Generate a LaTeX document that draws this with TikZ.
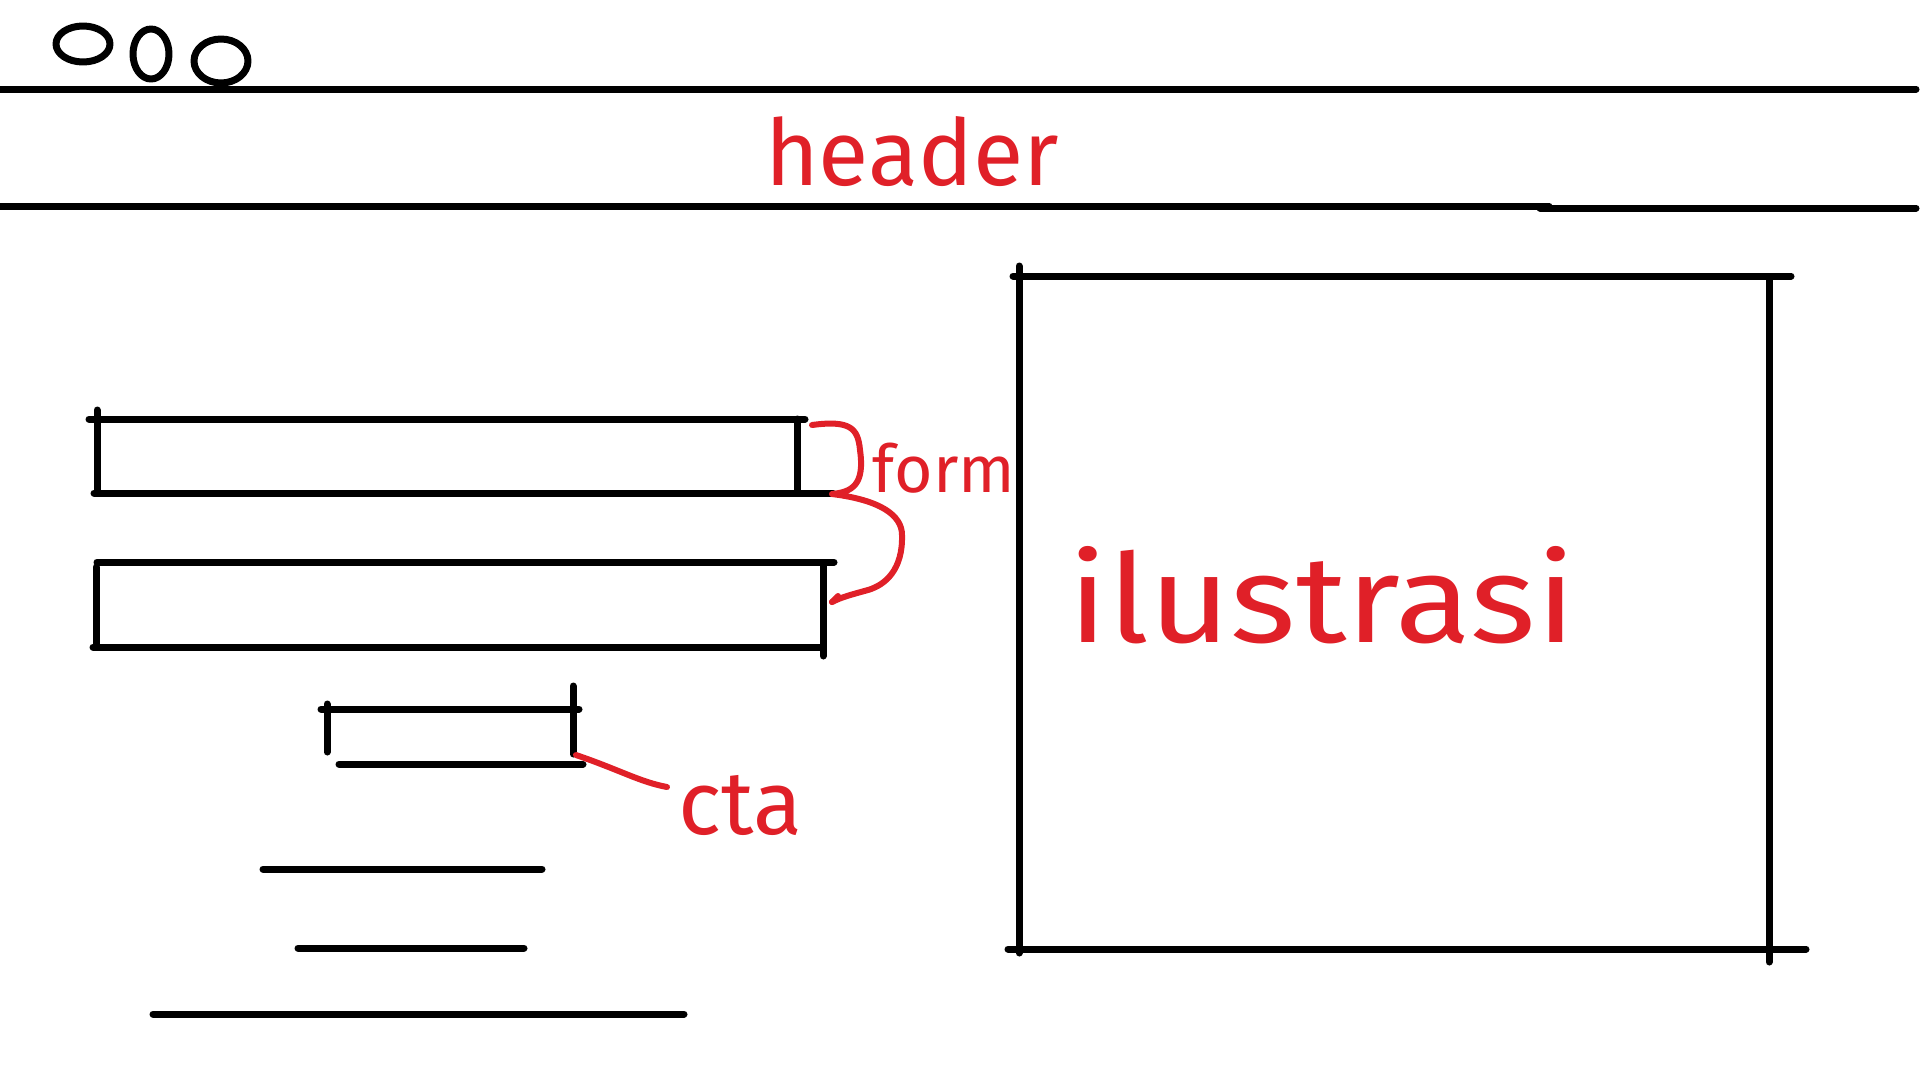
\documentclass[tikz,border=0pt]{standalone}
\usepackage{fontspec}
\usepackage{graphicx}
\setmainfont{Fira Sans}
\definecolor{sketchred}{HTML}{E02028}
\begin{document}
\begin{tikzpicture}[x=1pt,y=-1pt,
  ink/.style={line width=7pt, line cap=round, line join=round, draw=black},
  redink/.style={draw=sketchred, line width=6pt, line cap=round, line join=round},
  lbl/.style={text=sketchred, inner sep=0pt, anchor=center}]
\useasboundingbox (0,0) rectangle (1920,1080);
\fill[white] (0,0) rectangle (1920,1080);
% window dots
\draw[ink] (83,44) ellipse [x radius=27, y radius=18];
\draw[ink] (151,54) ellipse [x radius=18, y radius=25];
\draw[ink] (221,61) ellipse [x radius=27, y radius=22];
% header lines
\draw[ink] (0,89) -- (1916,89);
\draw[ink] (0,206) -- (1549,206);
\draw[ink] (1540,208) -- (1916,208);
\node[lbl, font=\fontsize{92}{100}\selectfont] (header) at (912,152) {header};
% illustration box
\draw[ink] (1013,276) -- (1791,276);
\draw[ink] (1019,266) -- (1019,953);
\draw[ink] (1769,279) -- (1769,962);
\draw[ink] (1008,949) -- (1806,949);
\node[lbl, font=\fontsize{112}{120}\selectfont] (ilu) at (1322,595) {\scalebox{1.25}[1.1]{ilustrasi}};
% form field 1
\draw[ink] (89,419) -- (805,419);
\draw[ink] (97,410) -- (97,493);
\draw[ink] (797,419) -- (797,493);
\draw[ink] (94,493) -- (833,493);
% form field 2
\draw[ink] (97,562) -- (834,562);
\draw[ink] (96,567) -- (96,647);
\draw[ink] (823,564) -- (823,656);
\draw[ink] (93,647) -- (823,647);
\coordinate (f1) at (812,425);
\coordinate (fmid) at (832,494);
\coordinate (f2) at (832,602);
\draw[redink] (f1) .. controls (850,420) and (858,428) .. (860,450)
  .. controls (865,485) and (852,492) .. (fmid)
  .. controls (880,500) and (902,515) .. (902,535)
  .. controls (903,570) and (885,585) .. (868,590)
  .. controls (850,595) and (842,597) .. (f2);
\draw[redink] (f2) -- (838,596);
\node[lbl, font=\fontsize{66}{72}\selectfont] (form) at (944,468) {form};
% cta button
\draw[ink] (321,709) -- (579,709);
\draw[ink] (327,704) -- (327,752);
\draw[ink] (573,686) -- (573,754);
\draw[ink] (339,764) -- (583,764);
\coordinate (ctac) at (576,755);
\node[lbl, font=\fontsize{90}{96}\selectfont] (cta) at (740,805) {cta};
\draw[redink] (ctac) .. controls (620,770) and (640,782) .. (667,787);
% text lines
\draw[ink] (263,869) -- (542,869);
\draw[ink] (298,948) -- (524,948);
\draw[ink] (153,1014) -- (684,1014);
\end{tikzpicture}
\end{document}
